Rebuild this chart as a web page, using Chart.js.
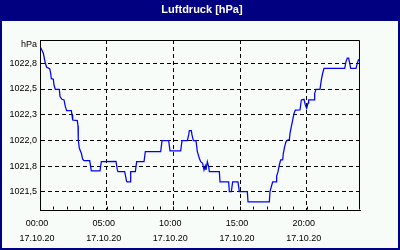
<!DOCTYPE html>
<html>
<head>
<meta charset="utf-8">
<script src="https://cdn.jsdelivr.net/npm/chart.js@4/dist/chart.umd.min.js"></script>
<style>
html,body{margin:0;padding:0;background:#fff;}
canvas{display:block;}
</style>
</head>
<body>
<canvas id="c" width="400" height="250"></canvas>
<script>
const chartTitle = 'Luftdruck [hPa]';
const unitLabel = 'hPa';
const dateLabel = '17.10.20';
const xTickHours = [0, 5, 10, 15, 20];
const xTickLabels = ['00:00', '05:00', '10:00', '15:00', '20:00'];
const yTickValues = [1021.5, 1021.75, 1022.0, 1022.25, 1022.5, 1022.75];
const yTickLabels = ['1021,5', '1021,8', '1022,0', '1022,3', '1022,5', '1022,8'];
const yMin = 1021.325, yMax = 1022.976;
const xMin = 0, xMax = 24;

const hours = [0.05,0.25,0.40,0.50,0.73,0.80,0.85,1.00,1.05,1.15,
1.45,1.50,1.65,1.80,1.90,2.00,2.35,2.40,2.45,2.80,
2.85,2.87,2.95,3.10,3.20,3.30,3.73,3.80,3.85,4.50,
4.60,5.70,5.80,5.85,6.35,6.50,6.55,6.75,6.80,7.15,
7.25,7.80,7.90,9.05,9.15,9.65,9.75,10.55,10.65,11.05,
11.15,11.20,11.35,11.40,11.50,11.70,11.80,11.95,12.05,12.20,
12.30,12.40,12.45,12.55,12.65,12.70,13.45,13.50,14.15,14.20,
14.35,14.45,14.85,14.95,15.55,15.60,17.20,17.25,17.35,17.45,
17.70,17.75,17.85,17.95,18.05,18.20,18.25,18.35,18.45,18.60,
18.70,18.75,18.85,18.95,19.05,19.15,19.50,19.60,19.80,19.90,
20.00,20.10,20.15,20.55,20.60,20.70,21.00,21.10,21.20,21.30,
22.85,22.95,23.05,23.15,23.30,23.70,23.80,23.90];

const pressure = [1022.903,1022.847,1022.750,1022.711,1022.698,1022.653,1022.600,1022.595,1022.539,1022.497,
1022.497,1022.426,1022.400,1022.394,1022.329,1022.290,1022.290,1022.248,1022.199,1022.193,
1022.141,1022.005,1021.924,1021.876,1021.818,1021.804,1021.804,1021.746,1021.704,1021.704,
1021.794,1021.796,1021.714,1021.697,1021.697,1021.600,1021.597,1021.597,1021.697,1021.697,
1021.794,1021.794,1021.891,1021.891,1021.998,1021.998,1021.898,1021.898,1021.998,1021.998,
1022.054,1022.095,1022.095,1022.054,1021.998,1021.998,1021.891,1021.827,1021.794,1021.779,
1021.714,1021.753,1021.714,1021.794,1021.746,1021.697,1021.697,1021.597,1021.597,1021.503,
1021.503,1021.597,1021.597,1021.503,1021.503,1021.403,1021.403,1021.503,1021.552,1021.597,
1021.597,1021.655,1021.697,1021.762,1021.811,1021.811,1021.876,1021.940,1021.989,1022.005,
1022.005,1022.070,1022.134,1022.199,1022.264,1022.294,1022.296,1022.394,1022.400,1022.345,
1022.313,1022.362,1022.394,1022.394,1022.459,1022.497,1022.497,1022.588,1022.653,1022.701,
1022.701,1022.766,1022.799,1022.799,1022.701,1022.701,1022.750,1022.789];

const FONT = '"Liberation Sans", Arial, sans-serif';

const framePlugin = {
  id: 'frame',
  beforeDraw(chart) {
    const c = chart.ctx;
    c.save();
    c.fillStyle = '#000080';
    c.fillRect(0, 0, 400, 250);
    c.fillStyle = '#f8fcf8';
    c.fillRect(2, 21, 396, 227);
    c.fillStyle = '#ffffff';
    c.font = 'bold 11px ' + FONT;
    c.textAlign = 'center';
    c.textBaseline = 'alphabetic';
    c.fillText(chartTitle, 202, 12.5);
    c.restore();
  },
  afterDraw(chart) {
    const c = chart.ctx;
    const a = chart.chartArea;
    const xs = chart.scales.x;
    c.save();
    c.strokeStyle = '#000';
    c.lineWidth = 1;
    c.setLineDash([]);
    const t = Math.round(a.top) + 0.5;
    const r = Math.round(a.right) - 0.5;
    const b = Math.round(a.bottom) - 0.5;
    const l = Math.round(a.left) + 0.5;
    c.beginPath();
    c.moveTo(l, t); c.lineTo(r, t); c.lineTo(r, b);
    c.stroke();
    c.beginPath();
    for (let h = xMin + 1; h < xMax; h++) {
      const px = Math.round(xs.getPixelForValue(h)) + 0.5;
      c.moveTo(px, b); c.lineTo(px, b - 3);
    }
    c.stroke();
    c.fillStyle = '#000';
    c.font = '9px ' + FONT;
    c.textAlign = 'right';
    c.textBaseline = 'middle';
    c.fillText(unitLabel, a.left - 3, 45);
    c.restore();
  }
};

new Chart(document.getElementById('c'), {
  type: 'line',
  data: {
    datasets: [{
      data: hours.map((h, i) => ({x: h, y: pressure[i]})),
      borderColor: '#0000ff',
      borderWidth: 1.25,
      pointRadius: 0,
      tension: 0,
      fill: false
    }]
  },
  options: {
    responsive: false,
    animation: false,
    devicePixelRatio: 1,
    layout: {padding: {left: 0, top: 40, right: 40, bottom: 0}},
    plugins: {legend: {display: false}, title: {display: false}, tooltip: {enabled: false}},
    scales: {
      x: {
        type: 'linear',
        min: xMin, max: xMax,
        afterBuildTicks(s) {
          const arr = [];
          for (let h = xMin; h <= xMax; h++) arr.push({value: h});
          s.ticks = arr;
        },
        afterFit(s) { s.height = 40; },
        ticks: {
          autoSkip: false, maxRotation: 0, minRotation: 0,
          padding: 5.5,
          labelOffset: -3,
          color: '#000',
          font: {family: FONT, size: 9, lineHeight: 1.68},
          callback(v) {
            const i = xTickHours.indexOf(v);
            return i >= 0 ? [xTickLabels[i], dateLabel] : '';
          }
        },
        grid: {
          drawTicks: false,
          lineWidth: 1,
          color: (ctx) => (ctx.tick && xTickHours.includes(ctx.tick.value) && ctx.tick.value !== xMin) ? '#000' : 'rgba(0,0,0,0)'
        },
        border: {display: true, color: '#000', width: 1, dash: [4, 3]}
      },
      y: {
        type: 'linear',
        min: yMin, max: yMax,
        afterBuildTicks(s) { s.ticks = yTickValues.map(v => ({value: v})); },
        afterFit(s) { s.width = 40; },
        ticks: {
          padding: 3,
          color: '#000',
          font: {family: FONT, size: 9},
          callback(v) {
            const i = yTickValues.indexOf(v);
            return i >= 0 ? yTickLabels[i] : '';
          }
        },
        grid: {drawTicks: false, lineWidth: 1, color: '#000'},
        border: {display: true, color: '#000', width: 1, dash: [4, 3]}
      }
    }
  },
  plugins: [framePlugin]
});
</script>
</body>
</html>
